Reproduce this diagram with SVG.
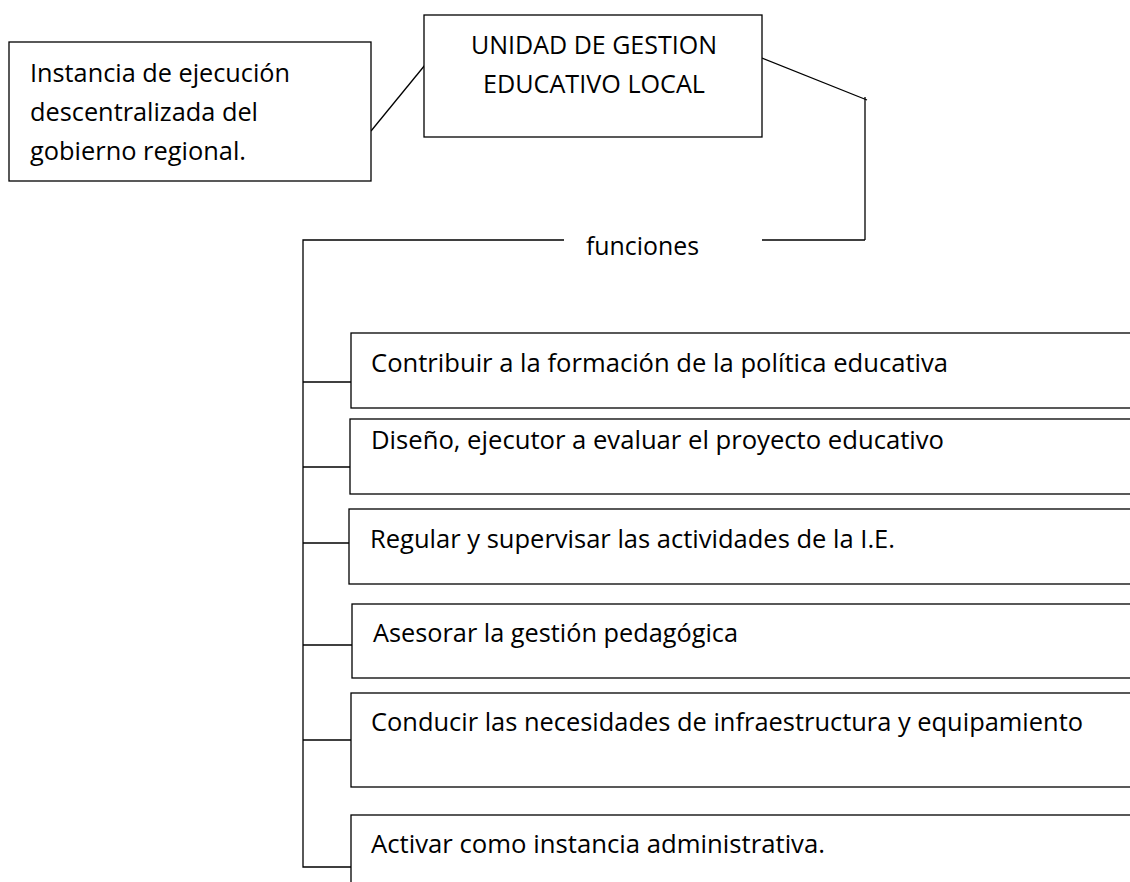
<svg xmlns="http://www.w3.org/2000/svg" width="1130" height="882" viewBox="0 0 1130 882">
  <style>
    .box { fill: #ffffff; stroke: #000000; stroke-width: 1.3; }
    .line { fill: none; stroke: #000000; stroke-width: 1.3; }
    .t { font-family: "Open Sans", "Liberation Sans", sans-serif; font-size: 26px; fill: #000000; }
  </style>
  <rect width="1130" height="882" fill="#ffffff"/>
  <g id="connectors">
    <line class="line" x1="371" y1="131" x2="425" y2="65"/>
    <polyline class="line" points="762,58 867,100"/>
    <line class="line" x1="865" y1="97" x2="865" y2="240"/>
    <line class="line" x1="762" y1="240" x2="865" y2="240"/>
    <polyline class="line" points="564,240 303,240 303,867 351,867"/>
    <line class="line" x1="303" y1="382" x2="351" y2="382"/>
    <line class="line" x1="303" y1="467" x2="350" y2="467"/>
    <line class="line" x1="303" y1="543" x2="349" y2="543"/>
    <line class="line" x1="303" y1="645" x2="352" y2="645"/>
    <line class="line" x1="303" y1="740" x2="351" y2="740"/>
  </g>
  <g id="node-instancia">
    <rect class="box" x="9" y="42" width="362" height="139"/>
    <text class="t" x="30" y="82" textLength="260" lengthAdjust="spacingAndGlyphs">Instancia de ejecución</text>
    <text class="t" x="30" y="121" textLength="228" lengthAdjust="spacingAndGlyphs">descentralizada del</text>
    <text class="t" x="30" y="160" textLength="216" lengthAdjust="spacingAndGlyphs">gobierno regional.</text>
  </g>
  <g id="node-ugel">
    <rect class="box" x="424" y="15" width="338" height="122"/>
    <text class="t" x="471" y="54" textLength="246" lengthAdjust="spacingAndGlyphs">UNIDAD DE GESTION</text>
    <text class="t" x="483" y="93" textLength="222" lengthAdjust="spacingAndGlyphs">EDUCATIVO LOCAL</text>
  </g>
  <g id="node-funciones">
    <text class="t" x="586" y="255" textLength="113" lengthAdjust="spacingAndGlyphs">funciones</text>
  </g>
  <g id="node-f1">
    <rect class="box" x="351" y="333" width="800" height="75"/>
    <text class="t" x="371" y="372" textLength="577" lengthAdjust="spacingAndGlyphs">Contribuir a la formación de la política educativa</text>
  </g>
  <g id="node-f2">
    <rect class="box" x="350" y="419" width="800" height="75"/>
    <text class="t" x="371" y="449" textLength="573" lengthAdjust="spacingAndGlyphs">Diseño, ejecutor a evaluar el proyecto educativo</text>
  </g>
  <g id="node-f3">
    <rect class="box" x="349" y="509" width="800" height="75"/>
    <text class="t" x="370" y="548" textLength="525" lengthAdjust="spacingAndGlyphs">Regular y supervisar las actividades de la I.E.</text>
  </g>
  <g id="node-f4">
    <rect class="box" x="352" y="604" width="800" height="74"/>
    <text class="t" x="373" y="642" textLength="365" lengthAdjust="spacingAndGlyphs">Asesorar la gestión pedagógica</text>
  </g>
  <g id="node-f5">
    <rect class="box" x="351" y="693" width="800" height="94"/>
    <text class="t" x="371" y="731" textLength="712" lengthAdjust="spacingAndGlyphs">Conducir las necesidades de infraestructura y equipamiento</text>
  </g>
  <g id="node-f6">
    <rect class="box" x="351" y="815" width="800" height="100"/>
    <text class="t" x="371" y="853" textLength="454" lengthAdjust="spacingAndGlyphs">Activar como instancia administrativa.</text>
  </g>
</svg>
